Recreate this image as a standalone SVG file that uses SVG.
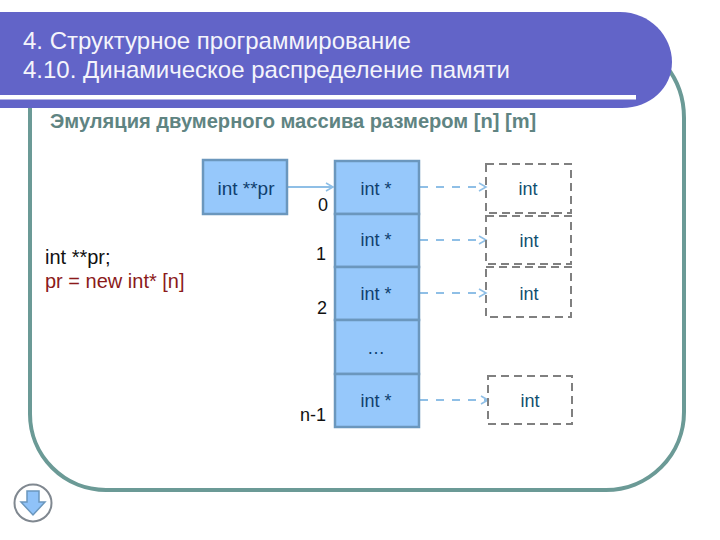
<svg xmlns="http://www.w3.org/2000/svg" width="720" height="540" viewBox="0 0 720 540">
<defs>
<marker id="ah" markerUnits="userSpaceOnUse" markerWidth="10" markerHeight="10" refX="8" refY="5" orient="auto"><path d="M1 1L8 5L1 9" fill="none" stroke="#8fbfe6" stroke-width="1.6"/></marker>
</defs>
<style>
text{font-family:"Liberation Sans",Arial,sans-serif}
.t{font-size:24px;fill:#f4f4fb}
.c{font-size:18px;fill:#0f3f6e;text-anchor:middle}
.i{font-size:18px;fill:#0f4f70;text-anchor:middle}
.n{font-size:18px;fill:#111;text-anchor:end}
.cell{fill:#96c8fb;stroke:#6b97bd;stroke-width:2.5}
.dash{fill:none;stroke:#808080;stroke-width:2;stroke-dasharray:8 5}
.ptr{stroke:#8fbfe6;stroke-width:2;stroke-dasharray:8 8;fill:none;marker-end:url(#ah)}
</style>
<rect width="720" height="540" fill="#fff"/>
<g id="frame"><path d="M30 100V414A76 76 0 0 0 106 490H606A78 78 0 0 0 684 412V118Q684 88 666 66" fill="none" stroke="#6b9a96" stroke-width="4"/></g>
<g id="header">
<path d="M0 12H620C650 12 672 36 672 62C672 88 650 108 622 108H0Z" fill="#6264c8"/>
<rect x="0" y="95" width="636" height="4.500" fill="#fff"/>
<text class="t" x="23" y="49">4. Структурное программирование</text>
<text class="t" x="23" y="78">4.10. Динамическое распределение памяти</text>
</g>
<text x="50" y="128" font-size="20.100" font-weight="700" fill="#5f8482">Эмуляция двумерного массива размером [n] [m]</text>
<g id="code" font-size="20">
<text x="45" y="264" fill="#111">int **pr;</text>
<text x="45" y="288" fill="#8b1a1a">pr = new int* [n]</text>
</g>
<g id="connectors">
<path d="M288 187H333" stroke="#8fbfe6" stroke-width="2" fill="none" marker-end="url(#ah)"/>
<path class="ptr" d="M420 187H486"/>
<path class="ptr" d="M420 240H486"/>
<path class="ptr" d="M420 293H486"/>
<path class="ptr" d="M420 400H488"/>
</g>
<g id="node-pr"><rect class="cell" x="203" y="160" width="84" height="54"/><text class="c" style="font-size:19px" x="246" y="195">int **pr</text></g>
<g id="node-0"><rect class="cell" x="335" y="161" width="84" height="53"/><text class="c" x="376" y="195">int *</text></g>
<g id="node-1"><rect class="cell" x="335" y="214" width="84" height="53"/><text class="c" x="376" y="246">int *</text></g>
<g id="node-2"><rect class="cell" x="335" y="267" width="84" height="53"/><text class="c" x="376" y="300">int *</text></g>
<g id="node-dots"><rect class="cell" x="335" y="320" width="84" height="54"/><text class="c" x="376" y="354">…</text></g>
<g id="node-n1"><rect class="cell" x="335" y="374" width="84" height="53"/><text class="c" x="376" y="407">int *</text></g>
<g id="int-0"><rect class="dash" x="486" y="164" width="85" height="49"/><text class="i" x="528" y="195">int</text></g>
<g id="int-1"><rect class="dash" x="486" y="216" width="85" height="48"/><text class="i" x="529" y="247">int</text></g>
<g id="int-2"><rect class="dash" x="486" y="267" width="85" height="50"/><text class="i" x="529" y="300">int</text></g>
<g id="int-n1"><rect class="dash" x="488" y="376" width="84" height="48"/><text class="i" x="530" y="407">int</text></g>
<text class="n" x="328" y="211">0</text>
<text class="n" x="326" y="260">1</text>
<text class="n" x="327" y="314">2</text>
<text class="n" x="326" y="421">n-1</text>
<g id="nav">
<circle cx="33" cy="503" r="18.500" fill="#fff" stroke="#808890" stroke-width="2"/>
<path d="M27 491H39V502H45L33 515L21 502H27Z" fill="#8fc2f8" stroke="#6b97bd" stroke-width="1.500"/>
</g>
</svg>
